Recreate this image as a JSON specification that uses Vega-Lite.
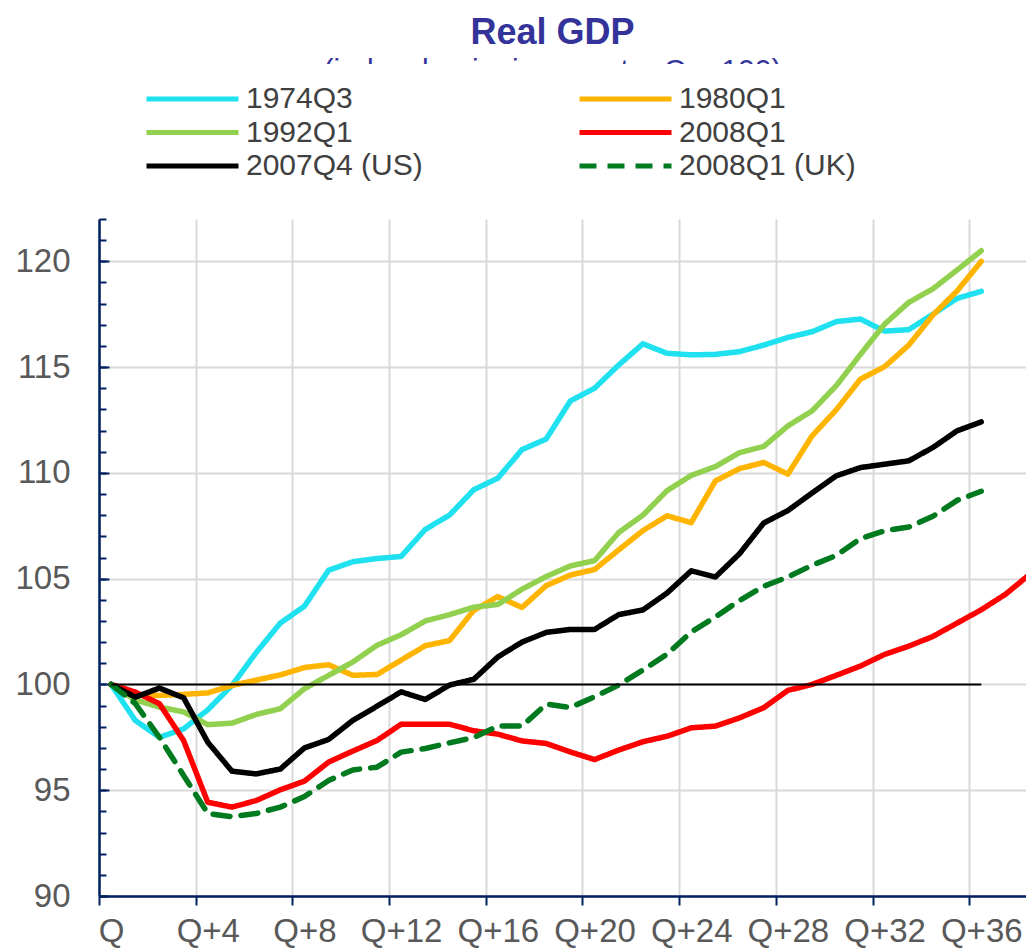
{
  "$schema": "https://vega.github.io/schema/vega-lite/v6.json",
  "autosize": {"type": "none"},
  "width": 927,
  "height": 677,
  "padding": {"left": 99, "top": 219, "right": 0, "bottom": 55},
  "background": "white",
  "title": {
    "text": "Real GDP",
    "subtitle": "(index: beginning quarter Q = 100)",
    "anchor": "middle",
    "frame": "group",
    "dx": -10,
    "font": "Liberation Sans",
    "fontSize": 36,
    "fontWeight": "bold",
    "color": "#333399",
    "subtitleFont": "Liberation Sans",
    "subtitleFontSize": 30,
    "subtitleColor": "#333399",
    "subtitlePadding": 4,
    "offset": -23
  },
  "config": {"view": {"stroke": null}},
  "datasets": {
    "series": [
      {"q":0,"v":100,"s":"1974Q3"},{"q":1,"v":98.3,"s":"1974Q3"},{"q":2,"v":97.5,"s":"1974Q3"},{"q":3,"v":97.9,"s":"1974Q3"},{"q":4,"v":98.8,"s":"1974Q3"},{"q":5,"v":99.95,"s":"1974Q3"},{"q":6,"v":101.5,"s":"1974Q3"},{"q":7,"v":102.9,"s":"1974Q3"},{"q":8,"v":103.7,"s":"1974Q3"},{"q":9,"v":105.4,"s":"1974Q3"},{"q":10,"v":105.8,"s":"1974Q3"},{"q":11,"v":105.95,"s":"1974Q3"},{"q":12,"v":106.05,"s":"1974Q3"},{"q":13,"v":107.33,"s":"1974Q3"},{"q":14,"v":108.0,"s":"1974Q3"},{"q":15,"v":109.2,"s":"1974Q3"},{"q":16,"v":109.75,"s":"1974Q3"},{"q":17,"v":111.1,"s":"1974Q3"},{"q":18,"v":111.6,"s":"1974Q3"},{"q":19,"v":113.4,"s":"1974Q3"},{"q":20,"v":114.0,"s":"1974Q3"},{"q":21,"v":115.1,"s":"1974Q3"},{"q":22,"v":116.1,"s":"1974Q3"},{"q":23,"v":115.65,"s":"1974Q3"},{"q":24,"v":115.58,"s":"1974Q3"},{"q":25,"v":115.6,"s":"1974Q3"},{"q":26,"v":115.73,"s":"1974Q3"},{"q":27,"v":116.04,"s":"1974Q3"},{"q":28,"v":116.4,"s":"1974Q3"},{"q":29,"v":116.67,"s":"1974Q3"},{"q":30,"v":117.15,"s":"1974Q3"},{"q":31,"v":117.27,"s":"1974Q3"},{"q":32,"v":116.7,"s":"1974Q3"},{"q":33,"v":116.77,"s":"1974Q3"},{"q":34,"v":117.5,"s":"1974Q3"},{"q":35,"v":118.25,"s":"1974Q3"},{"q":36,"v":118.58,"s":"1974Q3"},
      {"q":0,"v":100,"s":"1980Q1"},{"q":1,"v":99.53,"s":"1980Q1"},{"q":2,"v":99.48,"s":"1980Q1"},{"q":3,"v":99.53,"s":"1980Q1"},{"q":4,"v":99.6,"s":"1980Q1"},{"q":5,"v":99.95,"s":"1980Q1"},{"q":6,"v":100.2,"s":"1980Q1"},{"q":7,"v":100.45,"s":"1980Q1"},{"q":8,"v":100.8,"s":"1980Q1"},{"q":9,"v":100.93,"s":"1980Q1"},{"q":10,"v":100.43,"s":"1980Q1"},{"q":11,"v":100.47,"s":"1980Q1"},{"q":12,"v":101.15,"s":"1980Q1"},{"q":13,"v":101.83,"s":"1980Q1"},{"q":14,"v":102.07,"s":"1980Q1"},{"q":15,"v":103.5,"s":"1980Q1"},{"q":16,"v":104.15,"s":"1980Q1"},{"q":17,"v":103.64,"s":"1980Q1"},{"q":18,"v":104.67,"s":"1980Q1"},{"q":19,"v":105.17,"s":"1980Q1"},{"q":20,"v":105.43,"s":"1980Q1"},{"q":21,"v":106.36,"s":"1980Q1"},{"q":22,"v":107.27,"s":"1980Q1"},{"q":23,"v":107.97,"s":"1980Q1"},{"q":24,"v":107.65,"s":"1980Q1"},{"q":25,"v":109.62,"s":"1980Q1"},{"q":26,"v":110.2,"s":"1980Q1"},{"q":27,"v":110.49,"s":"1980Q1"},{"q":28,"v":109.94,"s":"1980Q1"},{"q":29,"v":111.75,"s":"1980Q1"},{"q":30,"v":112.98,"s":"1980Q1"},{"q":31,"v":114.43,"s":"1980Q1"},{"q":32,"v":115.02,"s":"1980Q1"},{"q":33,"v":116.04,"s":"1980Q1"},{"q":34,"v":117.46,"s":"1980Q1"},{"q":35,"v":118.6,"s":"1980Q1"},{"q":36,"v":120.0,"s":"1980Q1"},
      {"q":0,"v":100,"s":"1992Q1"},{"q":1,"v":99.27,"s":"1992Q1"},{"q":2,"v":98.93,"s":"1992Q1"},{"q":3,"v":98.7,"s":"1992Q1"},{"q":4,"v":98.1,"s":"1992Q1"},{"q":5,"v":98.17,"s":"1992Q1"},{"q":6,"v":98.58,"s":"1992Q1"},{"q":7,"v":98.85,"s":"1992Q1"},{"q":8,"v":99.8,"s":"1992Q1"},{"q":9,"v":100.43,"s":"1992Q1"},{"q":10,"v":101.06,"s":"1992Q1"},{"q":11,"v":101.85,"s":"1992Q1"},{"q":12,"v":102.35,"s":"1992Q1"},{"q":13,"v":103.0,"s":"1992Q1"},{"q":14,"v":103.3,"s":"1992Q1"},{"q":15,"v":103.65,"s":"1992Q1"},{"q":16,"v":103.78,"s":"1992Q1"},{"q":17,"v":104.5,"s":"1992Q1"},{"q":18,"v":105.1,"s":"1992Q1"},{"q":19,"v":105.6,"s":"1992Q1"},{"q":20,"v":105.85,"s":"1992Q1"},{"q":21,"v":107.18,"s":"1992Q1"},{"q":22,"v":108.0,"s":"1992Q1"},{"q":23,"v":109.16,"s":"1992Q1"},{"q":24,"v":109.88,"s":"1992Q1"},{"q":25,"v":110.3,"s":"1992Q1"},{"q":26,"v":110.96,"s":"1992Q1"},{"q":27,"v":111.25,"s":"1992Q1"},{"q":28,"v":112.22,"s":"1992Q1"},{"q":29,"v":112.93,"s":"1992Q1"},{"q":30,"v":114.12,"s":"1992Q1"},{"q":31,"v":115.6,"s":"1992Q1"},{"q":32,"v":117.03,"s":"1992Q1"},{"q":33,"v":118.06,"s":"1992Q1"},{"q":34,"v":118.7,"s":"1992Q1"},{"q":35,"v":119.59,"s":"1992Q1"},{"q":36,"v":120.5,"s":"1992Q1"},
      {"q":0,"v":100,"s":"2008Q1"},{"q":1,"v":99.64,"s":"2008Q1"},{"q":2,"v":99.09,"s":"2008Q1"},{"q":3,"v":97.35,"s":"2008Q1"},{"q":4,"v":94.43,"s":"2008Q1"},{"q":5,"v":94.2,"s":"2008Q1"},{"q":6,"v":94.51,"s":"2008Q1"},{"q":7,"v":95.02,"s":"2008Q1"},{"q":8,"v":95.43,"s":"2008Q1"},{"q":9,"v":96.33,"s":"2008Q1"},{"q":10,"v":96.85,"s":"2008Q1"},{"q":11,"v":97.35,"s":"2008Q1"},{"q":12,"v":98.12,"s":"2008Q1"},{"q":13,"v":98.12,"s":"2008Q1"},{"q":14,"v":98.12,"s":"2008Q1"},{"q":15,"v":97.81,"s":"2008Q1"},{"q":16,"v":97.65,"s":"2008Q1"},{"q":17,"v":97.33,"s":"2008Q1"},{"q":18,"v":97.21,"s":"2008Q1"},{"q":19,"v":96.81,"s":"2008Q1"},{"q":20,"v":96.45,"s":"2008Q1"},{"q":21,"v":96.9,"s":"2008Q1"},{"q":22,"v":97.29,"s":"2008Q1"},{"q":23,"v":97.55,"s":"2008Q1"},{"q":24,"v":97.95,"s":"2008Q1"},{"q":25,"v":98.03,"s":"2008Q1"},{"q":26,"v":98.42,"s":"2008Q1"},{"q":27,"v":98.9,"s":"2008Q1"},{"q":28,"v":99.72,"s":"2008Q1"},{"q":29,"v":100.0,"s":"2008Q1"},{"q":30,"v":100.43,"s":"2008Q1"},{"q":31,"v":100.87,"s":"2008Q1"},{"q":32,"v":101.42,"s":"2008Q1"},{"q":33,"v":101.81,"s":"2008Q1"},{"q":34,"v":102.27,"s":"2008Q1"},{"q":35,"v":102.9,"s":"2008Q1"},{"q":36,"v":103.53,"s":"2008Q1"},{"q":37,"v":104.26,"s":"2008Q1"},{"q":38,"v":105.2,"s":"2008Q1"},
      {"q":0,"v":100,"s":"2007Q4 (US)"},{"q":1,"v":99.4,"s":"2007Q4 (US)"},{"q":2,"v":99.83,"s":"2007Q4 (US)"},{"q":3,"v":99.37,"s":"2007Q4 (US)"},{"q":4,"v":97.27,"s":"2007Q4 (US)"},{"q":5,"v":95.9,"s":"2007Q4 (US)"},{"q":6,"v":95.77,"s":"2007Q4 (US)"},{"q":7,"v":96.0,"s":"2007Q4 (US)"},{"q":8,"v":97.0,"s":"2007Q4 (US)"},{"q":9,"v":97.4,"s":"2007Q4 (US)"},{"q":10,"v":98.3,"s":"2007Q4 (US)"},{"q":11,"v":98.97,"s":"2007Q4 (US)"},{"q":12,"v":99.65,"s":"2007Q4 (US)"},{"q":13,"v":99.29,"s":"2007Q4 (US)"},{"q":14,"v":99.97,"s":"2007Q4 (US)"},{"q":15,"v":100.24,"s":"2007Q4 (US)"},{"q":16,"v":101.3,"s":"2007Q4 (US)"},{"q":17,"v":102.0,"s":"2007Q4 (US)"},{"q":18,"v":102.46,"s":"2007Q4 (US)"},{"q":19,"v":102.6,"s":"2007Q4 (US)"},{"q":20,"v":102.6,"s":"2007Q4 (US)"},{"q":21,"v":103.3,"s":"2007Q4 (US)"},{"q":22,"v":103.52,"s":"2007Q4 (US)"},{"q":23,"v":104.32,"s":"2007Q4 (US)"},{"q":24,"v":105.37,"s":"2007Q4 (US)"},{"q":25,"v":105.08,"s":"2007Q4 (US)"},{"q":26,"v":106.18,"s":"2007Q4 (US)"},{"q":27,"v":107.63,"s":"2007Q4 (US)"},{"q":28,"v":108.22,"s":"2007Q4 (US)"},{"q":29,"v":109.05,"s":"2007Q4 (US)"},{"q":30,"v":109.86,"s":"2007Q4 (US)"},{"q":31,"v":110.25,"s":"2007Q4 (US)"},{"q":32,"v":110.41,"s":"2007Q4 (US)"},{"q":33,"v":110.57,"s":"2007Q4 (US)"},{"q":34,"v":111.2,"s":"2007Q4 (US)"},{"q":35,"v":111.99,"s":"2007Q4 (US)"},{"q":36,"v":112.41,"s":"2007Q4 (US)"},
      {"q":0,"v":100,"s":"2008Q1 (UK)"},{"q":1,"v":99.1,"s":"2008Q1 (UK)"},{"q":2,"v":97.5,"s":"2008Q1 (UK)"},{"q":3,"v":95.7,"s":"2008Q1 (UK)"},{"q":4,"v":93.9,"s":"2008Q1 (UK)"},{"q":5,"v":93.75,"s":"2008Q1 (UK)"},{"q":6,"v":93.9,"s":"2008Q1 (UK)"},{"q":7,"v":94.2,"s":"2008Q1 (UK)"},{"q":8,"v":94.7,"s":"2008Q1 (UK)"},{"q":9,"v":95.46,"s":"2008Q1 (UK)"},{"q":10,"v":95.96,"s":"2008Q1 (UK)"},{"q":11,"v":96.09,"s":"2008Q1 (UK)"},{"q":12,"v":96.8,"s":"2008Q1 (UK)"},{"q":13,"v":96.97,"s":"2008Q1 (UK)"},{"q":14,"v":97.24,"s":"2008Q1 (UK)"},{"q":15,"v":97.49,"s":"2008Q1 (UK)"},{"q":16,"v":98.03,"s":"2008Q1 (UK)"},{"q":17,"v":98.03,"s":"2008Q1 (UK)"},{"q":18,"v":99.07,"s":"2008Q1 (UK)"},{"q":19,"v":98.91,"s":"2008Q1 (UK)"},{"q":20,"v":99.42,"s":"2008Q1 (UK)"},{"q":21,"v":99.97,"s":"2008Q1 (UK)"},{"q":22,"v":100.68,"s":"2008Q1 (UK)"},{"q":23,"v":101.43,"s":"2008Q1 (UK)"},{"q":24,"v":102.48,"s":"2008Q1 (UK)"},{"q":25,"v":103.19,"s":"2008Q1 (UK)"},{"q":26,"v":103.97,"s":"2008Q1 (UK)"},{"q":27,"v":104.64,"s":"2008Q1 (UK)"},{"q":28,"v":105.08,"s":"2008Q1 (UK)"},{"q":29,"v":105.63,"s":"2008Q1 (UK)"},{"q":30,"v":106.1,"s":"2008Q1 (UK)"},{"q":31,"v":106.89,"s":"2008Q1 (UK)"},{"q":32,"v":107.26,"s":"2008Q1 (UK)"},{"q":33,"v":107.44,"s":"2008Q1 (UK)"},{"q":34,"v":107.95,"s":"2008Q1 (UK)"},{"q":35,"v":108.7,"s":"2008Q1 (UK)"},{"q":36,"v":109.13,"s":"2008Q1 (UK)"}
    ],
    "ref": [{"q0": 0, "q1": 36, "v": 100}]
  },
  "resolve": {"axis": {"y": "independent"}},
  "layer": [
    {
      "data": {"name": "series"},
      "mark": {"type": "line", "strokeWidth": 5.5, "strokeCap": "round", "strokeJoin": "round", "clip": true},
      "encoding": {
        "x": {
          "field": "q", "type": "quantitative",
          "scale": {"domain": [-0.5, 37.85], "nice": false, "zero": false},
          "axis": {
            "title": null,
            "values": [-0.5, 3.5, 7.5, 11.5, 15.5, 19.5, 23.5, 27.5, 31.5, 35.5],
            "labelExpr": "datum.value < 0 ? 'Q' : 'Q+' + (datum.value + 0.5)",
            "labelOffset": 12.08,
            "labelFlush": false,
            "labelOverlap": false,
            "labelFont": "Liberation Sans",
            "labelFontSize": 33,
            "labelColor": "#595959",
            "labelPadding": 10,
            "grid": true,
            "gridColor": "#D9D9D9",
            "gridWidth": 2,
            "domainColor": "#002060",
            "domainWidth": 2.5,
            "tickColor": "#002060",
            "tickWidth": 2,
            "tickSize": 9
          }
        },
        "y": {
          "field": "v", "type": "quantitative",
          "scale": {"domain": [90, 122], "nice": false, "zero": false},
          "axis": {
            "title": null,
            "orient": "left",
            "values": [90, 95, 100, 105, 110, 115, 120],
            "labelOverlap": false,
            "labelFont": "Liberation Sans",
            "labelFontSize": 33,
            "labelColor": "#595959",
            "labelPadding": 39,
            "grid": true,
            "gridColor": "#D9D9D9",
            "gridWidth": 2,
            "domainColor": "#002060",
            "domainWidth": 2.5,
            "tickColor": "#002060",
            "tickWidth": 2,
            "tickSize": -10
          }
        },
        "color": {
          "field": "s", "type": "nominal",
          "scale": {
            "domain": ["1974Q3", "1980Q1", "1992Q1", "2008Q1", "2007Q4 (US)", "2008Q1 (UK)"],
            "range": ["#1FE1EF", "#FFB400", "#92D050", "#FF0000", "#000000", "#007A1E"]
          },
          "legend": {
            "title": null, "orient": "none", "legendX": 25, "legendY": -155,
            "direction": "horizontal", "columns": 2, "symbolType": "stroke", "symbolSize": 8464, "symbolStrokeWidth": 5,
            "clipHeight": 30,
            "labelFont": "Liberation Sans", "labelFontSize": 30, "labelColor": "#404040",
            "labelLimit": 400, "labelOffset": 5, "columnPadding": 154, "rowPadding": 3.5,
            "fillColor": "white", "padding": 20, "zindex": 1
          }
        },
        "strokeDash": {
          "field": "s", "type": "nominal",
          "scale": {
            "domain": ["1974Q3", "1980Q1", "1992Q1", "2008Q1", "2007Q4 (US)", "2008Q1 (UK)"],
            "range": [[1, 0], [1, 0], [1, 0], [1, 0], [1, 0], [17, 11]]
          },
          "legend": {
            "title": null, "orient": "none", "legendX": 25, "legendY": -155,
            "direction": "horizontal", "columns": 2, "symbolType": "stroke", "symbolSize": 8464, "symbolStrokeWidth": 5,
            "clipHeight": 30,
            "labelFont": "Liberation Sans", "labelFontSize": 30, "labelColor": "#404040",
            "labelLimit": 400, "labelOffset": 5, "columnPadding": 154, "rowPadding": 3.5,
            "fillColor": "white", "padding": 20, "zindex": 1
          }
        }
      }
    },
    {
      "data": {"name": "ref"},
      "mark": {"type": "rule", "color": "#000000", "strokeWidth": 2},
      "encoding": {
        "x": {"field": "q0", "type": "quantitative"},
        "x2": {"field": "q1"},
        "y": {
          "field": "v", "type": "quantitative",
          "axis": {
            "title": null,
            "orient": "left",
            "values": [90,91,92,93,94,95,96,97,98,99,100,101,102,103,104,105,106,107,108,109,110,111,112,113,114,115,116,117,118,119,120,121,122],
            "labels": false,
            "grid": false,
            "domain": false,
            "tickColor": "#002060",
            "tickWidth": 2,
            "tickSize": -7
          }
        }
      }
    }
  ]
}
